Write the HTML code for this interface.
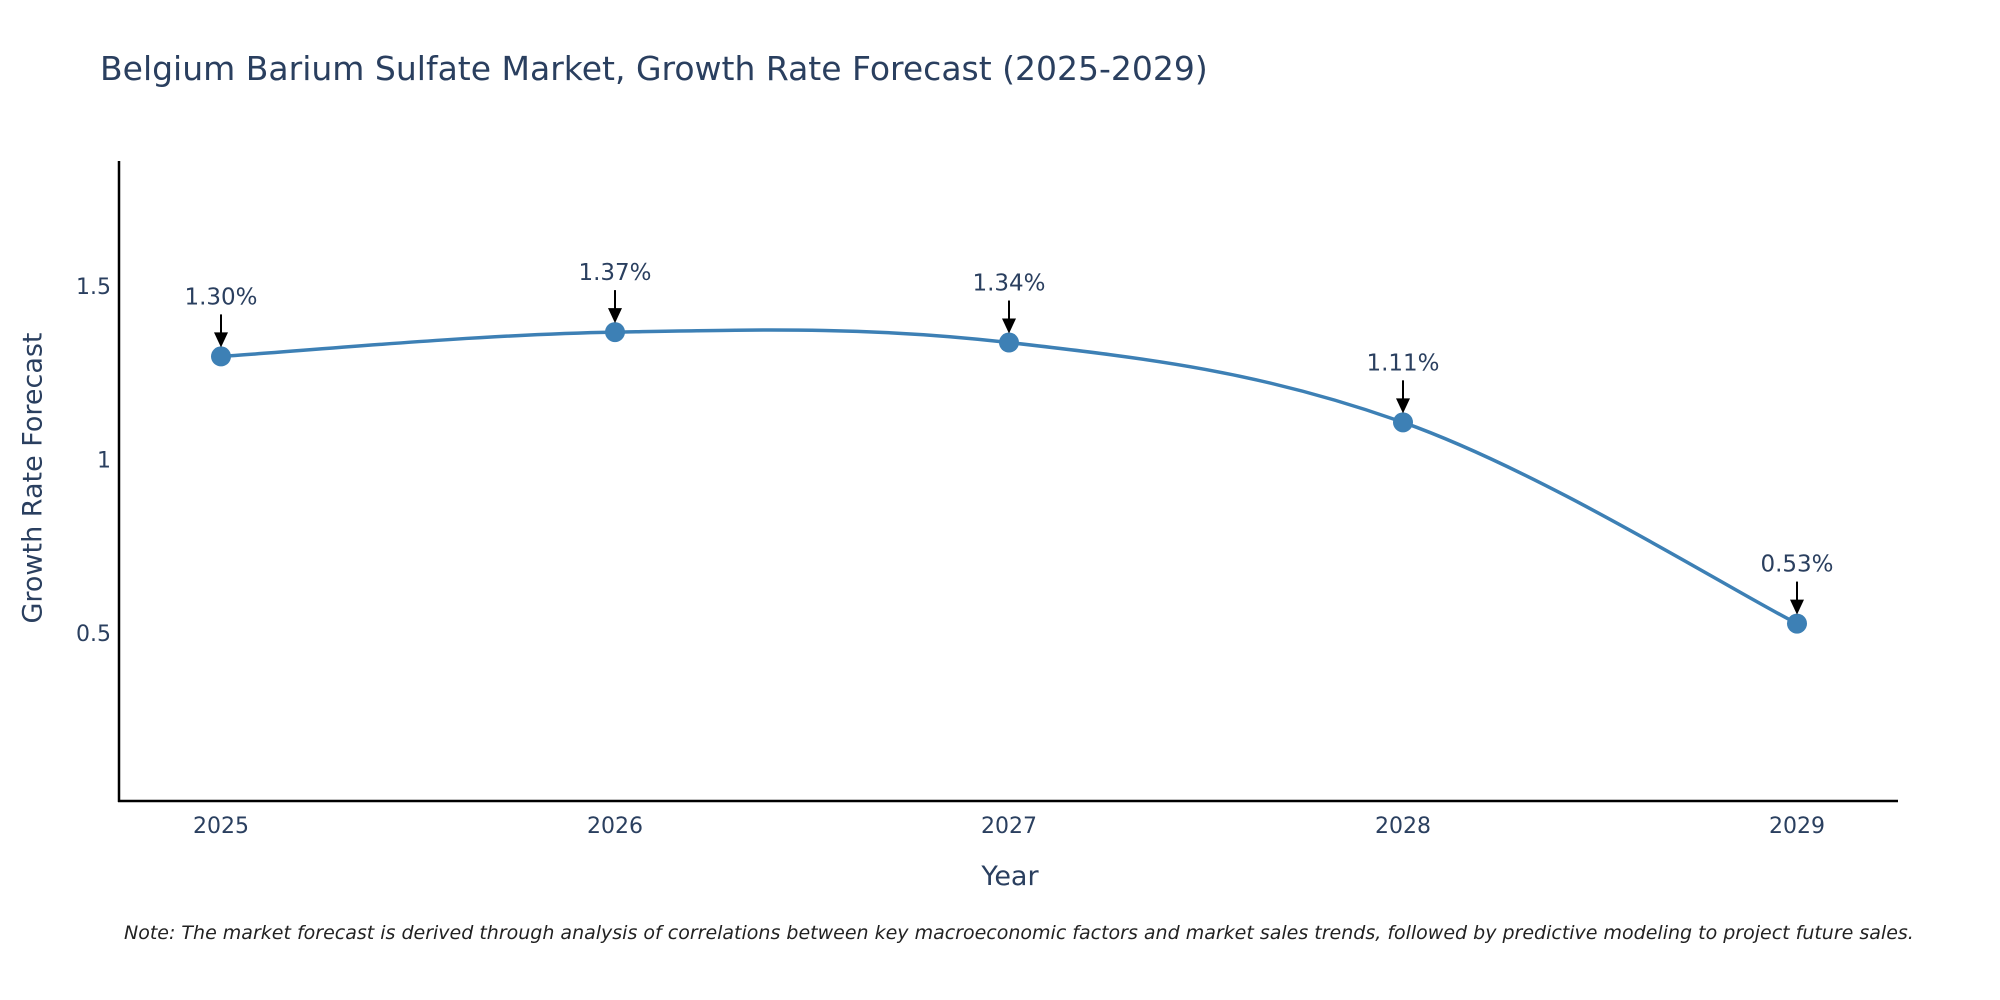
<!DOCTYPE html>
<html><head><meta charset="utf-8"><style>
html,body{margin:0;padding:0;background:#fff;}
svg{display:block;font-family:"DejaVu Sans","Liberation Sans",sans-serif;}
</style></head><body>
<svg id="chart" width="2000" height="1000" viewBox="0 0 2000 1000">
<text x="100" y="80" font-size="33" fill="#2a3f5f">Belgium Barium Sulfate Market, Growth Rate Forecast (2025-2029)</text>
<g id="axes"></g>
<g id="series"></g>
<g id="annots"></g>
<text x="34" y="478" font-size="27" fill="#2a3f5f" text-anchor="middle" transform="rotate(-90 34 478)" dominant-baseline="middle">Growth Rate Forecast</text>
<text x="1010" y="885" font-size="27" fill="#2a3f5f" text-anchor="middle">Year</text>
<text x="124" y="939" font-size="19" font-style="italic" fill="#222">Note: The market forecast is derived through analysis of correlations between key macroeconomic factors and market sales trends, followed by predictive modeling to project future sales.</text>
</svg>
<script>
const years=[2025,2026,2027,2028,2029];
const rates=[1.30,1.37,1.34,1.11,0.53];
const labels=["1.30%","1.37%","1.34%","1.11%","0.53%"];
const yTicks=[0.5,1,1.5];
const NS="http://www.w3.org/2000/svg";
const xL=119,xR=1898,yT=161,yB=801;
function xs(i){return 221+i*394;}
function ys(v){return 460.5-(v-1)*347;}
function mk(tag,attrs,parent){const e=document.createElementNS(NS,tag);for(const k in attrs)e.setAttribute(k,attrs[k]);parent.appendChild(e);return e;}
const axes=document.getElementById('axes'),series=document.getElementById('series'),ann=document.getElementById('annots');
let e=mk('line',{x1:xL,y1:yT,x2:xL,y2:yB+1,stroke:'#000','stroke-width':2.5},axes);


e=mk('line',{x1:xL-1,y1:yB,x2:xR,y2:yB,stroke:'#000','stroke-width':2.5},axes);


yTicks.forEach(t=>{const el=mk('text',{x:xL-8,y:ys(t)+7,'font-size':22,fill:'#2a3f5f','text-anchor':'end'},axes);el.textContent=String(t);

});
years.forEach((yr,i)=>{const el=mk('text',{x:xs(i),y:833,'font-size':22,fill:'#2a3f5f','text-anchor':'middle'},axes);el.textContent=String(yr);

});
const pts=rates.map((v,i)=>[xs(i),ys(v)]);
let d='M'+pts[0][0]+','+pts[0][1];
const s=0.18;
for(let i=0;i<pts.length-1;i++){const p0=pts[Math.max(0,i-1)],p1=pts[i],p2=pts[i+1],p3=pts[Math.min(pts.length-1,i+2)];
const c1=[p1[0]+(p2[0]-p0[0])*s,p1[1]+(p2[1]-p0[1])*s],c2=[p2[0]-(p3[0]-p1[0])*s,p2[1]-(p3[1]-p1[1])*s];
d+=' C'+c1[0]+','+c1[1]+' '+c2[0]+','+c2[1]+' '+p2[0]+','+p2[1];}
e=mk('path',{d:d,fill:'none',stroke:'#3d80b5','stroke-width':3.5},series);


pts.forEach((p,i)=>{const c=mk('circle',{cx:p[0],cy:p[1],r:10,fill:'#3d80b5'},series);


const t=mk('text',{x:p[0],y:p[1]-52,'font-size':23,fill:'#2a3f5f','text-anchor':'middle'},ann);t.textContent=labels[i];


const a=mk('line',{x1:p[0],y1:p[1]-42,x2:p[0],y2:p[1]-22,stroke:'#000','stroke-width':2},ann);


const h=mk('polygon',{points:(p[0]-7)+','+(p[1]-24)+' '+(p[0]+7)+','+(p[1]-24)+' '+p[0]+','+(p[1]-9),fill:'#000'},ann);

});
</script>
</body></html>
